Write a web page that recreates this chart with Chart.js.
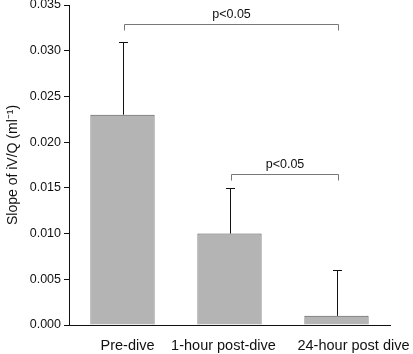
<!DOCTYPE html>
<html>
<head>
<meta charset="utf-8">
<script src="https://cdn.jsdelivr.net/npm/chart.js@4/dist/chart.umd.min.js"></script>
<style>
html,body{margin:0;padding:0;background:#fff;}
#wrap{width:413px;height:354px;position:relative;}
</style>
</head>
<body>
<div id="wrap"><canvas id="c" width="413" height="354"></canvas></div>
<script>
const categories = ["Pre-dive", "1-hour post-dive", "24-hour post dive"];
const meanValues = [0.023, 0.010, 0.001];
const errorUpper = [0.031, 0.015, 0.006];
const yTicks = [0, 0.005, 0.010, 0.015, 0.020, 0.025, 0.030, 0.035];
// significance brackets
const bracketFrom = [0, 1];
const bracketTo = [2, 2];
const bracketLevel = [0.0329, 0.0165];
const bracketLabel = ["p<0.05", "p<0.05"];

const FONT = "'Liberation Sans', Arial, sans-serif";
// horizontal nudges of the category labels (layout only, in px)
const LABEL_SHIFT = [5, -6, 17];

const overlay = {
  id: 'overlay',
  afterDraw(chart) {
    const ctx = chart.ctx;
    const x = chart.scales.x, y = chart.scales.y;
    ctx.save();
    ctx.strokeStyle = '#111';
    ctx.lineWidth = 1;
    meanValues.forEach((m, i) => {
      const cx = Math.round(x.getPixelForValue(i)) + 0.5;
      const y0 = y.getPixelForValue(m);
      const y1 = Math.round(y.getPixelForValue(errorUpper[i])) + 0.5;
      ctx.beginPath();
      ctx.moveTo(cx, y0);
      ctx.lineTo(cx, y1);
      ctx.moveTo(cx - 4.5, y1);
      ctx.lineTo(cx + 4.5, y1);
      ctx.stroke();
    });
    ctx.strokeStyle = '#777';
    ctx.fillStyle = '#111';
    ctx.font = '12.5px ' + FONT;
    ctx.textAlign = 'center';
    ctx.textBaseline = 'bottom';
    bracketLevel.forEach((lv, k) => {
      const xa = Math.round(x.getPixelForValue(bracketFrom[k])) + 0.5 + 1;
      const xb = Math.round(x.getPixelForValue(bracketTo[k])) + 0.5 + 1;
      const yy = Math.round(y.getPixelForValue(lv)) + 0.5;
      ctx.beginPath();
      ctx.moveTo(xa, yy + 6);
      ctx.lineTo(xa, yy);
      ctx.lineTo(xb, yy);
      ctx.lineTo(xb, yy + 6);
      ctx.stroke();
      ctx.fillText(bracketLabel[k], (xa + xb) / 2, yy - 4);
    });
    // category labels
    ctx.font = '14.5px ' + FONT;
    ctx.textBaseline = 'middle';
    categories.forEach((c, i) => {
      ctx.fillText(c, x.getPixelForValue(i) + LABEL_SHIFT[i], x.top + 21);
    });
    ctx.restore();
  }
};

new Chart(document.getElementById('c'), {
  type: 'bar',
  data: {
    labels: categories,
    datasets: [{
      data: meanValues,
      backgroundColor: '#b4b4b4',
      borderColor: '#555',
      borderWidth: 1,
      barPercentage: 0.6,
      categoryPercentage: 1.0
    }]
  },
  options: {
    responsive: false,
    animation: false,
    devicePixelRatio: 1,
    layout: { padding: { top: 0, right: 23, left: 5, bottom: 0 } },
    plugins: { legend: { display: false }, tooltip: { enabled: false } },
    scales: {
      x: {
        grid: { display: false, drawTicks: false },
        border: { display: true, color: '#111', width: 1 },
        afterFit(scale) { scale.height = 29; scale.paddingLeft = 0; scale.paddingRight = 0; },
        ticks: { display: false }
      },
      y: {
        min: 0, max: 0.035,
        afterBuildTicks(scale) { scale.ticks = yTicks.map(v => ({ value: v })); },
        afterFit(scale) { scale.width = 64; scale.paddingTop = 5; scale.paddingBottom = 0; },
        grid: { display: true, drawOnChartArea: false, drawTicks: true, tickLength: 5, color: '#111' },
        border: { display: true, color: '#111', width: 1 },
        ticks: { color: '#111', font: { family: FONT, size: 12.5 }, padding: 3,
                 callback: v => Number(v).toFixed(3) },
        title: { display: true, text: 'Slope of iV/Q (ml⁻¹)', color: '#111',
                 font: { family: FONT, size: 14 }, padding: 0 }
      }
    }
  },
  plugins: [overlay]
});
</script>
</body>
</html>
